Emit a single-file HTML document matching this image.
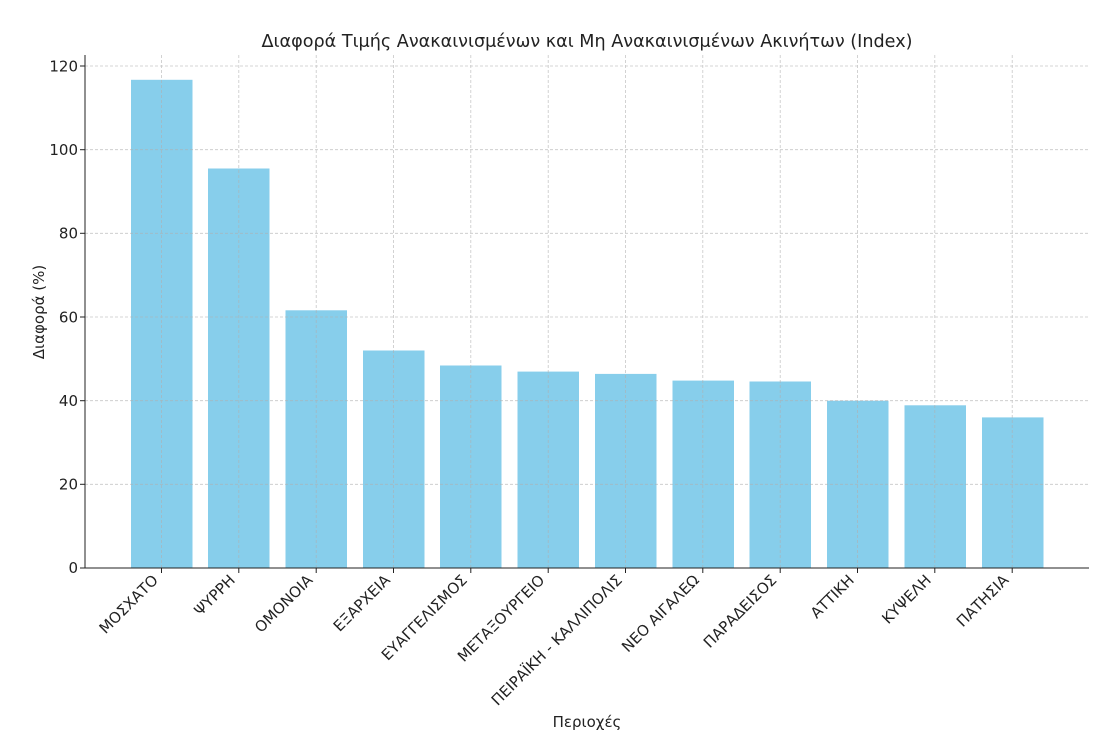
<!DOCTYPE html>
<html><head><meta charset="utf-8"><style>body{margin:0;background:#fff}svg{display:block}text{font-family:"DejaVu Sans","Liberation Sans",sans-serif;fill:#222}</style></head><body>
<svg width="1110" height="756" xmlns="http://www.w3.org/2000/svg">
<text x="587" y="47" font-size="17.6" text-anchor="middle" fill="#333">Διαφορά Τιμής Ανακαινισμένων και Μη Ανακαινισμένων Ακινήτων (Index)</text>
<g fill="#87ceeb">
<rect x="131" y="79.8" width="61.5" height="488.2"/>
<rect x="208" y="168.5" width="61.5" height="399.5"/>
<rect x="285.5" y="310.3" width="61.5" height="257.7"/>
<rect x="363" y="350.5" width="61.5" height="217.5"/>
<rect x="440" y="365.5" width="61.5" height="202.5"/>
<rect x="517.5" y="371.6" width="61.5" height="196.4"/>
<rect x="595" y="373.9" width="61.5" height="194.1"/>
<rect x="672.5" y="380.6" width="61.5" height="187.4"/>
<rect x="749.5" y="381.5" width="61.5" height="186.5"/>
<rect x="827" y="400.7" width="61.5" height="167.3"/>
<rect x="904.5" y="405.3" width="61.5" height="162.7"/>
<rect x="982" y="417.4" width="61.5" height="150.6"/>
</g>
<g stroke="#b0b0b0" stroke-width="0.8" stroke-dasharray="3,2" opacity="0.7">
<line x1="85" x2="1089" y1="484.3" y2="484.3"/><line x1="85" x2="1089" y1="400.7" y2="400.7"/><line x1="85" x2="1089" y1="317" y2="317"/><line x1="85" x2="1089" y1="233.3" y2="233.3"/><line x1="85" x2="1089" y1="149.7" y2="149.7"/><line x1="85" x2="1089" y1="66" y2="66"/>
<line x1="161.5" x2="161.5" y1="55" y2="568"/><line x1="238.8" x2="238.8" y1="55" y2="568"/><line x1="316.2" x2="316.2" y1="55" y2="568"/><line x1="393.5" x2="393.5" y1="55" y2="568"/><line x1="470.8" x2="470.8" y1="55" y2="568"/><line x1="548.2" x2="548.2" y1="55" y2="568"/><line x1="625.5" x2="625.5" y1="55" y2="568"/><line x1="702.8" x2="702.8" y1="55" y2="568"/><line x1="780.2" x2="780.2" y1="55" y2="568"/><line x1="857.5" x2="857.5" y1="55" y2="568"/><line x1="934.8" x2="934.8" y1="55" y2="568"/><line x1="1012.2" x2="1012.2" y1="55" y2="568"/>
</g>
<g stroke="#222" stroke-width="1">
<line x1="85" y1="55" x2="85" y2="568.5"/><line x1="84.5" y1="568" x2="1089" y2="568"/>
<line x1="80" x2="85" y1="568" y2="568"/><line x1="80" x2="85" y1="484.3" y2="484.3"/><line x1="80" x2="85" y1="400.7" y2="400.7"/><line x1="80" x2="85" y1="317" y2="317"/><line x1="80" x2="85" y1="233.3" y2="233.3"/><line x1="80" x2="85" y1="149.7" y2="149.7"/><line x1="80" x2="85" y1="66" y2="66"/>
<line y1="568" y2="573" x1="161.5" x2="161.5"/><line y1="568" y2="573" x1="238.8" x2="238.8"/><line y1="568" y2="573" x1="316.2" x2="316.2"/><line y1="568" y2="573" x1="393.5" x2="393.5"/><line y1="568" y2="573" x1="470.8" x2="470.8"/><line y1="568" y2="573" x1="548.2" x2="548.2"/><line y1="568" y2="573" x1="625.5" x2="625.5"/><line y1="568" y2="573" x1="702.8" x2="702.8"/><line y1="568" y2="573" x1="780.2" x2="780.2"/><line y1="568" y2="573" x1="857.5" x2="857.5"/><line y1="568" y2="573" x1="934.8" x2="934.8"/><line y1="568" y2="573" x1="1012.2" x2="1012.2"/>
</g>
<g font-size="15" text-anchor="end">
<text x="78" y="573">0</text><text x="78" y="489.5">20</text><text x="78" y="406">40</text><text x="78" y="322.5">60</text><text x="78" y="238.5">80</text><text x="78" y="155">100</text><text x="78" y="71.5">120</text>
</g>
<g font-size="15" text-anchor="end">
<text transform="translate(159,581) rotate(-45)">ΜΟΣΧΑΤΟ</text>
<text transform="translate(236,581) rotate(-45)">ΨΥΡΡΗ</text>
<text transform="translate(313.5,581) rotate(-45)">ΟΜΟΝΟΙΑ</text>
<text transform="translate(391,581) rotate(-45)">ΕΞΑΡΧΕΙΑ</text>
<text transform="translate(468,581) rotate(-45)">ΕΥΑΓΓΕΛΙΣΜΟΣ</text>
<text transform="translate(545.5,581) rotate(-45)">ΜΕΤΑΞΟΥΡΓΕΙΟ</text>
<text transform="translate(623,581) rotate(-45)">ΠΕΙΡΑΪΚΗ - ΚΑΛΛΙΠΟΛΙΣ</text>
<text transform="translate(700,581) rotate(-45)">ΝΕΟ ΑΙΓΑΛΕΩ</text>
<text transform="translate(777.5,581) rotate(-45)">ΠΑΡΑΔΕΙΣΟΣ</text>
<text transform="translate(855,581) rotate(-45)">ΑΤΤΙΚΗ</text>
<text transform="translate(932,581) rotate(-45)">ΚΥΨΕΛΗ</text>
<text transform="translate(1009.5,581) rotate(-45)">ΠΑΤΗΣΙΑ</text>
</g>
<text x="587" y="727" font-size="15" text-anchor="middle">Περιοχές</text>
<text transform="translate(44,312) rotate(-90)" font-size="15" text-anchor="middle">Διαφορά (%)</text>
</svg>
</body></html>
